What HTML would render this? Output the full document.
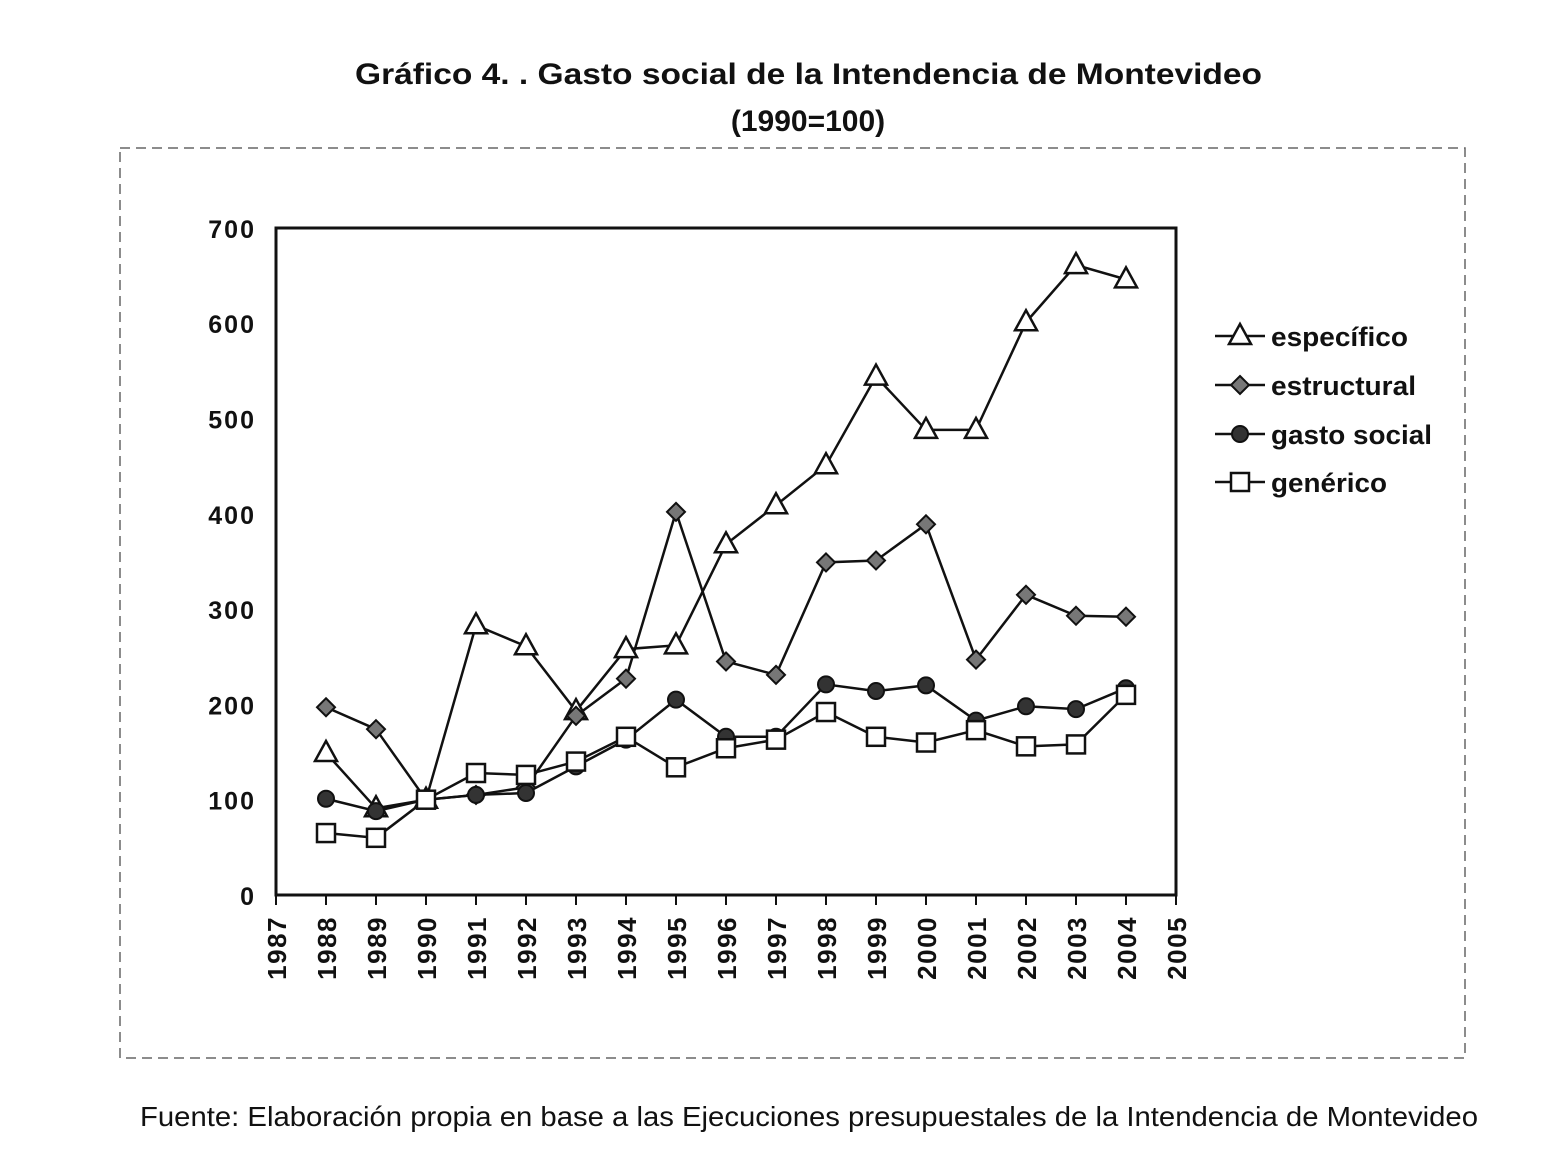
<!DOCTYPE html>
<html><head><meta charset="utf-8"><style>
html,body{margin:0;padding:0;background:#fff;}
svg{display:block;}
text{font-family:"Liberation Sans",Arial,sans-serif;fill:#111;}
</style></head><body>
<svg id="s" width="1553" height="1164" xmlns="http://www.w3.org/2000/svg">
<text x="355" y="84" font-size="30" font-weight="bold" textLength="907" lengthAdjust="spacingAndGlyphs">Gráfico 4. . Gasto social de la Intendencia de Montevideo</text>
<text x="808" y="131" font-size="30" font-weight="bold" text-anchor="middle">(1990=100)</text>
<rect x="120" y="148" width="1345" height="910" fill="none" stroke="#666" stroke-width="1.5" stroke-dasharray="10,6"/>
<rect x="276" y="228" width="900" height="667" fill="none" stroke="#111" stroke-width="3"/>
<text x="140" y="1126" font-size="28" textLength="1338" lengthAdjust="spacingAndGlyphs">Fuente: Elaboración propia en base a las Ejecuciones presupuestales de la Intendencia de Montevideo</text>
</svg>
<script>
var s=document.getElementById('s'),NS='http://www.w3.org/2000/svg';
function el(t,a,txt){var e=document.createElementNS(NS,t);for(var k in a)e.setAttribute(k,a[k]);if(txt!=null)e.textContent=txt;s.appendChild(e);return e;}
function X(yr){return 276+(yr-1987)*50;}
function Y(v){return 895-v*0.953;}
for(var v=0;v<=700;v+=100){var t=String(v);el('text',{x:256,y:Y(v)+10,'font-size':25,'font-weight':'bold','text-anchor':'end','letter-spacing':2},t);}
for(var yr=1987;yr<=2005;yr++){var x=X(yr);el('line',{x1:x,y1:895,x2:x,y2:905,stroke:'#111','stroke-width':2});
el('text',{x:0,y:0,'font-size':26,'font-weight':'bold','text-anchor':'end','letter-spacing':1.5,transform:'translate('+(x+10)+',916) rotate(-90)'},yr);}
var yrs=[];for(var i=1988;i<=2004;i++)yrs.push(i);
var D={
esp:[149,91,100,283,261,193,258,262,368,409,451,544,488,488,601,661,646],
est:[197,174,100,105,113,188,227,402,245,231,349,351,389,247,315,293,292],
gs:[101,88,100,105,107,135,163,205,166,166,221,214,220,183,198,195,217],
gen:[65,60,100,128,126,140,166,134,154,163,192,166,160,173,156,158,210]};
function line(d){var p=d.map(function(v,i){return X(yrs[i])+','+Y(v)}).join(' ');el('polyline',{points:p,fill:'none',stroke:'#111','stroke-width':2.5});}
function mk(type,x,y){
if(type=='esp')el('polygon',{points:(x)+','+(y-12)+' '+(x-11)+','+(y+8)+' '+(x+11)+','+(y+8),fill:'#fff',stroke:'#111','stroke-width':2.5});
else if(type=='est')el('polygon',{points:x+','+(y-9)+' '+(x+9)+','+y+' '+x+','+(y+9)+' '+(x-9)+','+y,fill:'#777',stroke:'#111','stroke-width':2});
else if(type=='gs')el('circle',{cx:x,cy:y,r:8,fill:'#333',stroke:'#111','stroke-width':2});
else el('rect',{x:x-9,y:y-9,width:18,height:18,fill:'#fff',stroke:'#111','stroke-width':2.5});}
['esp','est','gs','gen'].forEach(function(k){line(D[k]);});
['esp','est','gs','gen'].forEach(function(k){D[k].forEach(function(v,i){mk(k,X(yrs[i]),Y(v));});});
var L=[['esp','específico',336,137],['est','estructural',385,145],['gs','gasto social',434,161],['gen','genérico',482,116]];
L.forEach(function(l){el('line',{x1:1215,y1:l[2],x2:1265,y2:l[2],stroke:'#111','stroke-width':2.5});mk(l[0],1240,l[2]);
el('text',{x:1271,y:l[2]+10,'font-size':27,'font-weight':'bold',textLength:l[3],lengthAdjust:'spacingAndGlyphs'},l[1]);});
</script>
</body></html>
